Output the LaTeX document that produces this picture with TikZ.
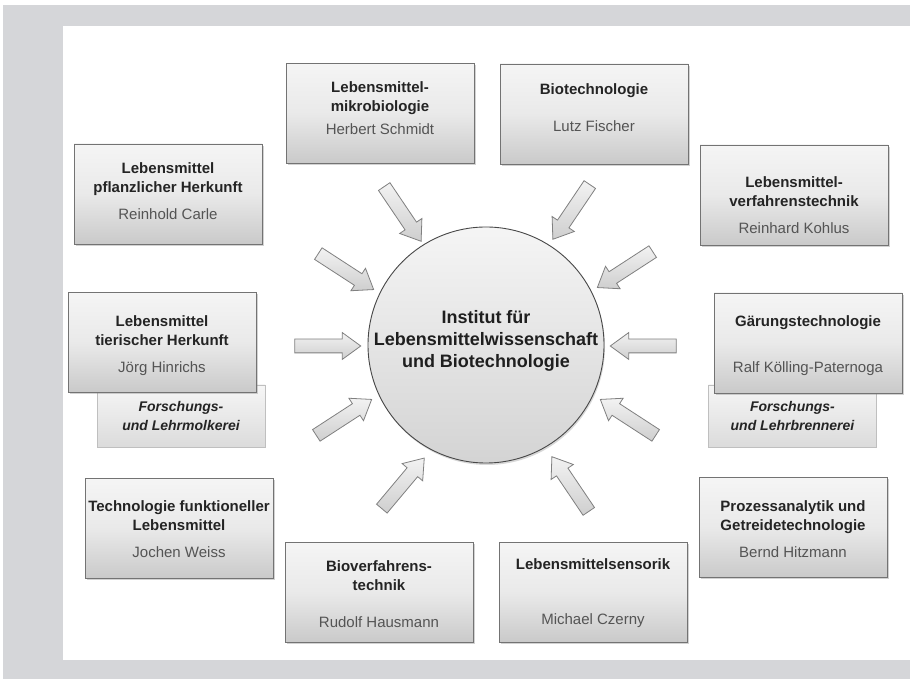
\documentclass[tikz,border=0pt]{standalone}
\usepackage{fontspec}
\setmainfont{Liberation Sans}
\usetikzlibrary{shapes.arrows,shadows}
\definecolor{framegray}{RGB}{213,214,217}
\definecolor{titlegray}{RGB}{36,36,36}
\definecolor{namegray}{RGB}{84,84,84}
\definecolor{boxline}{RGB}{115,115,115}
\definecolor{arrowline}{RGB}{128,128,128}
\newcommand{\nm}[1]{\textcolor{namegray}{\mdseries #1}}

\begin{document}
\begin{tikzpicture}[x=1pt,y=1pt,
 box/.style={draw=boxline,line width=0.9pt,minimum width=188pt,minimum height=100pt,inner sep=0pt,
   top color=gray!8,bottom color=gray!42,middle color=gray!17,
   drop shadow={shadow xshift=1.5pt,shadow yshift=-2pt,opacity=0.35}},
 subbox/.style={draw=gray!50,line width=0.7pt,minimum width=168pt,minimum height=62pt,inner sep=0pt,
   top color=gray!7,bottom color=gray!28},
 boxtext/.style={align=center,text=titlegray,font=\fontsize{15}{19}\selectfont\bfseries},
 subtext/.style={align=center,text=titlegray,font=\fontsize{14}{19}\selectfont\bfseries\itshape},
 arr/.style={single arrow,draw=arrowline,line width=0.8pt,top color=gray!10,bottom color=gray!38,
   minimum height=66pt,inner xsep=0pt,inner ysep=6.5pt,single arrow head extend=6.5pt,
   single arrow tip angle=72}]

\useasboundingbox (0,0) rectangle (910,679);
\fill[framegray] (3,0) rectangle (910,674);
\fill[white] (63,19) rectangle (910,653);

%Institut
\node[circle,draw=black!72,line width=0.9pt,minimum size=236pt,top color=gray!8,bottom color=gray!34,
  drop shadow={shadow xshift=1pt,shadow yshift=-2pt,opacity=0.3}] (inst) at (486,334) {};
\node[align=center,text=black!88,font=\fontsize{18}{22}\selectfont\bfseries] (insttext) at (486,338.5)
  {Institut für\\Lebensmittelwissenschaft\\und Biotechnologie};

%Mikrobiologie
\node[box] (mikro) at (380,565.5) {};
\node[boxtext] (mikrotext) at (380,570.5) {Lebensmittel-\\mikrobiologie\\[4pt]\nm{Herbert Schmidt}};

%Biotechnologie
\node[box] (biotech) at (594,565) {};
\node[boxtext] (biotechtext) at (594,571.5) {Biotechnologie\\[18pt]\nm{Lutz Fischer}};

%pflanzlich
\node[box] (pflanz) at (168,485) {};
\node[boxtext] (pflanztext) at (168,488) {Lebensmittel\\pflanzlicher Herkunft\\[8pt]\nm{Reinhold Carle}};

%Verfahrenstechnik
\node[box] (verfahren) at (794,484) {};
\node[boxtext] (verfahrentext) at (794,473.5) {Lebensmittel-\\verfahrenstechnik\\[8pt]\nm{Reinhard Kohlus}};

%tierisch + Molkerei
\node[subbox] (molkerei) at (181,263) {};
\node[subtext] (molkereitext) at (181,263) {Forschungs-\\und Lehrmolkerei};
\node[box] (tier) at (162,336.5) {};
\node[boxtext] (tiertext) at (162,333) {Lebensmittel\\tierischer Herkunft\\[8pt]\nm{Jörg Hinrichs}};

%Gaerung + Brennerei
\node[subbox] (brennerei) at (792.5,263) {};
\node[subtext] (brennereitext) at (792.5,263) {Forschungs-\\und Lehrbrennerei};
\node[box] (gaerung) at (808,336) {};
\node[boxtext] (gaerungtext) at (808,333) {Gärungstechnologie\\[27pt]\nm{Ralf Kölling-Paternoga}};

%funktionell
\node[box] (funkt) at (179,150.5) {};
\node[boxtext] (funkttext) at (179,150) {Technologie funktioneller\\Lebensmittel\\[8pt]\nm{Jochen Weiss}};

%Prozessanalytik
\node[box] (prozess) at (793,151.5) {};
\node[boxtext] (prozesstext) at (793,150) {Prozessanalytik und\\Getreidetechnologie\\[8pt]\nm{Bernd Hitzmann}};

%Bioverfahrenstechnik
\node[box] (bioverf) at (379,86.5) {};
\node[boxtext] (bioverftext) at (379,85) {Bioverfahrens-\\technik\\[18pt]\nm{Rudolf Hausmann}};

%Sensorik
\node[box] (sensorik) at (593,86.5) {};
\node[boxtext] (sensoriktext) at (593,85.5) {Lebensmittelsensorik\\[36pt]\nm{Michael Czerny}};

%arrows
\node[arr,rotate=-56] (a1) at (400,469) {};
\node[arr,rotate=236] (a2) at (574,471) {};
\node[arr,rotate=-33] (a3) at (342,410) {};
\node[arr,rotate=213] (a4) at (629,412) {};
\node[arr,rotate=0] (a5) at (323,333) {};
\node[arr,rotate=180] (a6) at (648,333) {};
\node[arr,rotate=33] (a7) at (340,259) {};
\node[arr,rotate=147] (a8) at (632,259) {};
\node[arr,rotate=50] (a9) at (400,192) {};
\node[arr,rotate=124] (a10) at (573,191) {};
\end{tikzpicture}
\end{document}
